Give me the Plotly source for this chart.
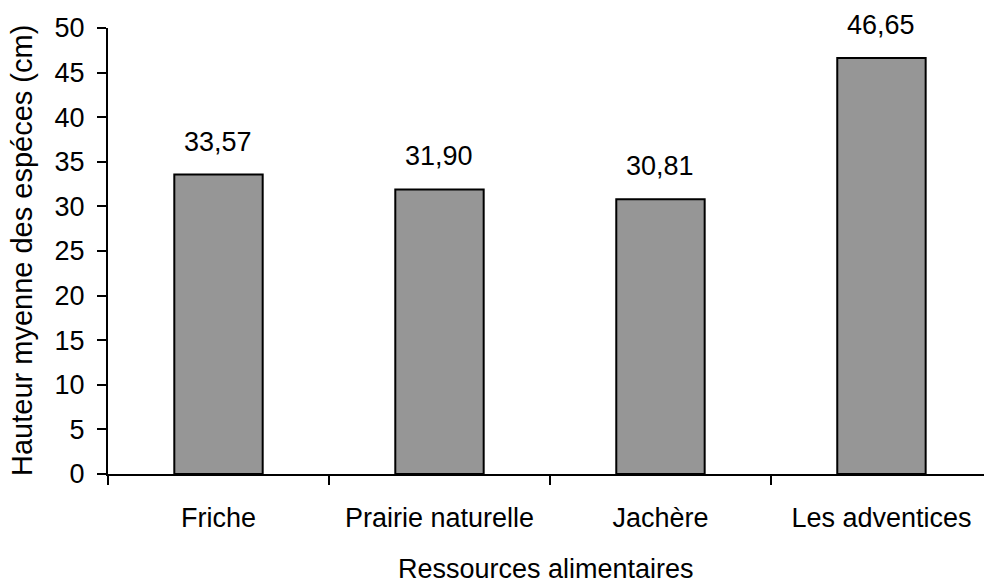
import plotly.graph_objects as go

categories = ["Friche", "Prairie naturelle", "Jachère", "Les adventices"]
values = [33.57, 31.90, 30.81, 46.65]
value_labels = ["33,57", "31,90", "30,81", "46,65"]
y_ticks = [0, 5, 10, 15, 20, 25, 30, 35, 40, 45, 50]

FONT = "Liberation Sans, Arial, sans-serif"

fig = go.Figure()
fig.add_trace(go.Bar(
    x=categories,
    y=values,
    width=0.40,
    marker=dict(color="#969696", line=dict(color="black", width=2)),
    showlegend=False,
    hoverinfo="skip",
))

for c, v, t in zip(categories, values, value_labels):
    fig.add_annotation(x=c, y=v, text=t, showarrow=False, yanchor="bottom",
                       yshift=16, font=dict(family=FONT, size=27, color="black"))

fig.add_annotation(text="Hauteur myenne des espéces (cm)", xref="paper", yref="paper",
                   x=0, y=0.5, xshift=-86, textangle=-90, showarrow=False,
                   xanchor="center", yanchor="middle",
                   font=dict(family=FONT, size=29, color="black"))
fig.add_annotation(text="Ressources alimentaires", xref="paper", yref="paper",
                   x=0.5, y=0, yshift=-95, showarrow=False,
                   xanchor="center", yanchor="middle",
                   font=dict(family=FONT, size=27, color="black"))

fig.update_layout(
    width=984, height=585,
    margin=dict(l=108, r=0, t=28, b=111),
    paper_bgcolor="white", plot_bgcolor="white",
    font=dict(family=FONT, size=27, color="black"),
    xaxis=dict(
        type="category", range=[-0.5, 3.464],
        showline=True, linecolor="black", linewidth=2,
        ticks="outside", tickson="boundaries", ticklen=9, tickwidth=2, tickcolor="black",
        ticklabelstandoff=19,
        showgrid=False, zeroline=False,
        tickfont=dict(family=FONT, size=27, color="black"),
    ),
    yaxis=dict(
        range=[0, 50], tickvals=y_ticks,
        showline=True, linecolor="black", linewidth=2,
        ticks="outside", ticklen=9, tickwidth=2, tickcolor="black",
        ticklabelstandoff=7,
        showgrid=False, zeroline=False,
        tickfont=dict(family=FONT, size=27, color="black"),
    ),
)

fig.write_html("out.html", config={"displayModeBar": False},
               post_script="document.body.style.margin='0';document.body.style.overflow='hidden';")
